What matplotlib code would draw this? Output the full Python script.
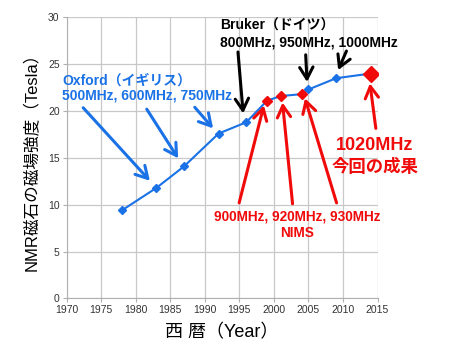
import matplotlib
matplotlib.use("Agg")
import matplotlib.pyplot as plt

# NMR magnet field strength by year
years = [1978, 1983, 1987, 1992, 1996, 1999, 2001, 2004, 2005, 2009, 2014]
tesla = [9.4, 11.8, 14.1, 17.6, 18.8, 21.1, 21.6, 21.8, 22.3, 23.5, 24.0]

# NIMS records (red)
nims_years = [1999, 2001, 2004]
nims_tesla = [21.1, 21.6, 21.8]
new_year = 2014
new_tesla = 24.0

x_ticks = list(range(1970, 2016, 5))
y_ticks = list(range(0, 31, 5))

BLUE = "#1a72e6"
RED = "#f00a0a"
FONT = ["Liberation Sans", "Noto Sans CJK JP"]

plt.rcParams["font.family"] = FONT

fig = plt.figure(figsize=(4.5, 3.57), dpi=100)
ax = fig.add_axes([0.148, 0.164, 0.691, 0.7875])

ax.plot(years, tesla, color=BLUE, lw=1.5, marker="D", ms=3.7,
        mfc=BLUE, mec=BLUE, zorder=3)
ax.plot(nims_years, nims_tesla, ls="none", marker="D", ms=5.1,
        color=RED, zorder=4)
ax.plot([new_year], [new_tesla], ls="none", marker="D", ms=8,
        color=RED, zorder=4)

ax.set_xlim(1970, 2015)
ax.set_ylim(0, 30)
ax.set_xticks(x_ticks)
ax.set_yticks(y_ticks)
ax.grid(True, color="#c8c8c8", lw=0.9)
ax.set_axisbelow(True)
for s in ["top", "right"]:
    ax.spines[s].set_visible(False)
for s in ["left", "bottom"]:
    ax.spines[s].set_color("#b0b0b0")
ax.tick_params(length=3, color="#b0b0b0", labelsize=7.5,
               labelcolor="#333333", pad=2)

ax.set_xlabel("西 暦（Year）", fontsize=13, labelpad=6)
ax.set_ylabel("NMR磁石の磁場強度（Tesla）", fontsize=12, labelpad=6)


def arrow(start, end, color):
    ax.annotate("", xy=end, xytext=start,
                arrowprops=dict(arrowstyle="->,head_length=0.7,head_width=0.4",
                                color=color, lw=2.2, mutation_scale=12,
                                shrinkA=0, shrinkB=0),
                annotation_clip=False, zorder=5)


# Oxford
arrow((1972.4, 20.35), (1982.05, 12.56), BLUE)
arrow((1981.6, 20.2), (1986.15, 14.95), BLUE)
arrow((1988.55, 20.4), (1991.2, 18.15), BLUE)
ax.text(1969.4, 23.2, "Oxford（イギリス）", color=BLUE, fontsize=10,
        fontweight="bold", va="center", ha="left")
ax.text(1969.4, 21.7, "500MHz, 600MHz, 750MHz", color=BLUE, fontsize=10,
        fontweight="bold", va="center", ha="left")

# Bruker
arrow((1994.8, 26.3), (1995.55, 19.75), "black")
arrow((2004.6, 26.0), (2004.8, 23.1), "black")
arrow((2010.5, 26.4), (2009.3, 24.37), "black")
ax.text(1992.2, 29.07, "Bruker（ドイツ）", color="black", fontsize=10,
        fontweight="bold", va="center", ha="left")
ax.text(1992.2, 27.33, "800MHz, 950MHz, 1000MHz", color="black", fontsize=10,
        fontweight="bold", va="center", ha="left")

# NIMS
arrow((1994.97, 10.2), (1998.55, 20.6), RED)
arrow((2002.7, 10.1), (2001.25, 20.9), RED)
arrow((2009.07, 10.2), (2004.5, 21.35), RED)
ax.text(2003.4, 8.72, "900MHz, 920MHz, 930MHz", color=RED, fontsize=9.8,
        fontweight="bold", va="center", ha="center")
ax.text(2003.4, 6.95, "NIMS", color=RED, fontsize=9.8,
        fontweight="bold", va="center", ha="center")

# 1020MHz
arrow((2014.75, 18.15), (2013.9, 22.95), RED)
ax.text(2014.6, 16.37, "1020MHz", color=RED, fontsize=13,
        fontweight="bold", va="center", ha="center")
ax.text(2014.6, 14.05, "今回の成果", color=RED, fontsize=12.5,
        fontweight="bold", va="center", ha="center")

fig.savefig("out.png", dpi=100)
